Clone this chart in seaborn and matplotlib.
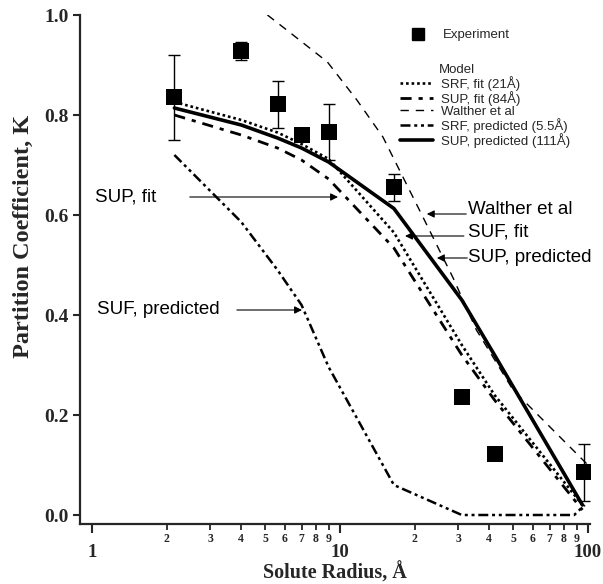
import matplotlib
matplotlib.use("Agg")
import matplotlib.pyplot as plt
import seaborn as sns
from matplotlib.lines import Line2D

# ---------------- data ----------------
exp_radius = [2.15, 4.0, 5.6, 7.0, 9.0, 16.5, 31.0, 42.0, 96.0]
exp_K = [0.836, 0.928, 0.822, 0.76, 0.766, 0.656, 0.237, 0.122, 0.086]
exp_err = [0.085, 0.018, 0.047, 0.0, 0.055, 0.027, 0.0, 0.0, 0.057]

model_radius = [2.15, 4.0, 5.6, 7.0, 9.0, 16.5, 31.0, 42.0, 95.0]
srf_fit_K = [0.826, 0.79, 0.765, 0.742, 0.712, 0.565, 0.34, 0.24, 0.02]
sup_fit_K = [0.80, 0.76, 0.734, 0.71, 0.672, 0.534, 0.32, 0.23, 0.01]
sup_pred_K = [0.814, 0.78, 0.754, 0.734, 0.706, 0.613, 0.43, 0.32, 0.02]

srf_pred_radius = [2.15, 4.0, 5.6, 7.0, 9.0, 16.5, 31.0, 42.0, 88.0, 97.0]
srf_pred_K = [0.72, 0.586, 0.49, 0.42, 0.296, 0.06, 0.0, 0.0, 0.0, 0.02]

walther_radius = [5.1, 6.1, 8.9, 11.7, 14.9, 21.4, 28.6, 35.5, 49.9, 92.8, 100.0]
walther_K = [1.0, 0.97, 0.906, 0.83, 0.756, 0.60, 0.474, 0.37, 0.25, 0.116, 0.10]

major_x = [1, 10, 100]
major_x_labels = ["1", "10", "100"]
minor_x = [2, 3, 4, 5, 6, 7, 8, 9, 20, 30, 40, 50, 60, 70, 80, 90]
minor_x_labels = ["2", "3", "4", "5", "6", "7", "8", "9"] * 2
y_ticks = [0.0, 0.2, 0.4, 0.6, 0.8, 1.0]
y_tick_labels = ["0.0", "0.2", "0.4", "0.6", "0.8", "1.0"]

model_labels = ["SRF, fit (21Å)", "SUP, fit (84Å)", "Walther et al",
                "SRF, predicted (5.5Å)", "SUP, predicted (111Å)"]

# ---------------- styling ----------------
sns.set_style("ticks")
plt.rcParams["font.family"] = ["Liberation Sans", "DejaVu Sans"]
SERIF = ["Liberation Serif", "DejaVu Serif"]

fig = plt.figure(figsize=(6.03, 5.84), dpi=100)
ax = fig.add_axes([80 / 603, 1 - 524 / 584, 510 / 603, 509 / 584])

st_srf_fit = dict(color="black", lw=1.9, linestyle=(0, (1, 1.1)))
st_sup_fit = dict(color="black", lw=2.0, linestyle=(0, (4, 2.5, 1.5, 2.5)))
st_walther = dict(color="black", lw=1.0, linestyle=(0, (6, 5)))
st_srf_pred = dict(color="black", lw=1.8, linestyle=(0, (4, 1.5, 1.2, 1.5, 1.2, 1.5)))
st_sup_pred = dict(color="black", lw=2.6, linestyle="-")

sns.lineplot(x=model_radius, y=srf_fit_K, ax=ax, errorbar=None, sort=False, **st_srf_fit)
sns.lineplot(x=model_radius, y=sup_fit_K, ax=ax, errorbar=None, sort=False, **st_sup_fit)
sns.lineplot(x=walther_radius, y=walther_K, ax=ax, errorbar=None, sort=False, **st_walther)
sns.lineplot(x=srf_pred_radius, y=srf_pred_K, ax=ax, errorbar=None, sort=False, **st_srf_pred)
sns.lineplot(x=model_radius, y=sup_pred_K, ax=ax, errorbar=None, sort=False, **st_sup_pred)

ax.errorbar(exp_radius, exp_K, yerr=exp_err, fmt="none", ecolor="black",
            elinewidth=1.0, capsize=4, capthick=1.0, zorder=4)
sns.scatterplot(x=exp_radius, y=exp_K, ax=ax, marker="s", s=125, color="black",
                edgecolor="black", linewidth=0, zorder=5)

ax.set_xscale("log")
ax.set_xlim(0.895, 101.9)
ax.set_ylim(-0.018, 1.0)

tick_font = dict(fontfamily=SERIF, fontweight="bold")
ax.set_xticks(major_x, major_x_labels, fontsize=13.5, **tick_font)
ax.set_xticks(minor_x, minor_x_labels, minor=True, fontsize=8.5, **tick_font)
ax.set_yticks(y_ticks, y_tick_labels, fontsize=14, **tick_font)
ax.set_yticks([], minor=True)

ax.tick_params(axis="x", which="major", direction="out", length=6.5, width=1.5, pad=8)
ax.tick_params(axis="x", which="minor", direction="out", length=4.3, width=1.3, pad=2)
ax.tick_params(axis="y", which="major", direction="out", length=5, width=1.5, pad=3)

for s in ["top", "right"]:
    ax.spines[s].set_visible(False)
for s in ["left", "bottom"]:
    ax.spines[s].set_linewidth(1.6)

ax.set_xlabel("Solute Radius, Å", fontsize=14.5, labelpad=1, **tick_font)
ax.set_ylabel("Partition Coefficient, K", fontsize=17.5, **tick_font)
ax.yaxis.set_label_coords(-0.09, 0.565)

# ---------------- annotations ----------------
arrow = dict(arrowstyle="-|>", color="black", lw=0.8, mutation_scale=11,
             shrinkA=0, shrinkB=0)
txt = dict(fontsize=13.5, va="center", ha="left", color="black")

ax.text(1.03, 0.636, "SUP, fit", **txt)
ax.annotate("", xy=(9.82, 0.636), xytext=(2.48, 0.636), arrowprops=arrow)

ax.text(1.05, 0.41, "SUF, predicted", **txt)
ax.annotate("", xy=(7.03, 0.41), xytext=(3.84, 0.41), arrowprops=arrow)

ax.text(32.8, 0.61, "Walther et al", **txt)
ax.annotate("", xy=(22.4, 0.602), xytext=(32.3, 0.602), arrowprops=arrow)

ax.text(32.8, 0.566, "SUF, fit", **txt)
ax.annotate("", xy=(18.3, 0.558), xytext=(31.6, 0.558), arrowprops=arrow)

ax.text(32.8, 0.516, "SUP, predicted", **txt)
ax.annotate("", xy=(24.6, 0.514), xytext=(32.6, 0.514), arrowprops=arrow)

# ---------------- legends ----------------
exp_handle = Line2D([], [], marker="s", color="black", ls="none", markersize=8.5)
leg1 = ax.legend([exp_handle], ["Experiment"], loc="upper left",
                 bbox_to_anchor=(402 / 603, 1 - 29 / 584), bbox_transform=fig.transFigure,
                 frameon=False, fontsize=9.5, borderpad=0, borderaxespad=0,
                 handlelength=2.5, handletextpad=0.6)
ax.add_artist(leg1)

model_handles = [Line2D([], [], **st) for st in
                 [st_srf_fit, st_sup_fit, st_walther, st_srf_pred, st_sup_pred]]
leg2 = ax.legend(model_handles, model_labels, loc="upper left", title="Model",
                 bbox_to_anchor=(400 / 603, 1 - 64 / 584), bbox_transform=fig.transFigure,
                 frameon=False, fontsize=9.5, title_fontsize=9.5, labelspacing=0.0,
                 borderpad=0, borderaxespad=0, handlelength=2.5, handletextpad=0.6,
                 alignment="left")
leg2.get_title().set_position((39, 0))

fig.savefig("out.png", dpi=100)
